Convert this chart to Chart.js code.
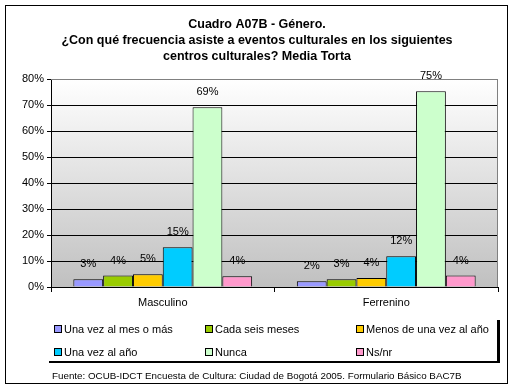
<!DOCTYPE html>
<html>
<head>
<meta charset="utf-8">
<script src="https://cdn.jsdelivr.net/npm/chart.js@4/dist/chart.umd.min.js"></script>
<style>
  html, body { margin: 0; padding: 0; background: #fff; }
  #wrap { width: 515px; height: 391px; position: relative; }
</style>
</head>
<body>
<div id="wrap"><canvas id="chart" width="515" height="391"></canvas></div>
<script>
// data
const categories = ['Masculino', 'Ferrenino'];
const seriesNames = ['Una vez al mes o más', 'Cada seis meses', 'Menos de una vez al año',
    'Una vez al año', 'Nunca', 'Ns/nr'];
const seriesColors = ['#9999ff', '#99cc00', '#ffcc00', '#00ccff', '#ccffcc', '#ff99cc'];
const masculino = [3.0, 4.4, 4.9, 15.3, 69.1, 4.1];
const femenino = [2.2, 3.0, 3.5, 11.8, 75.3, 4.4];
const yTicks = [0, 10, 20, 30, 40, 50, 60, 70, 80];

const titleLines = ['Cuadro A07B - Género.',
    '¿Con qué frecuencia asiste a eventos culturales en los siguientes',
    'centros culturales? Media Torta'];
const footer = 'Fuente: OCUB-IDCT Encuesta de Cultura: Ciudad de Bogotá 2005. Formulario Básico BAC7B';

const FONT = '"Liberation Sans", Arial, sans-serif';

const datasets = seriesNames.map((name, i) => ({
    label: name,
    data: [masculino[i], femenino[i]],
    backgroundColor: seriesColors[i],
    borderColor: '#000',
    borderWidth: 1,
    borderSkipped: 'bottom',
    categoryPercentage: 0.8,
    barPercentage: 1.0
}));

// frame, gradient, title, legend, footer
const decorations = {
    id: 'decorations',
    beforeDraw(chart) {
        const ctx = chart.ctx;
        const a = chart.chartArea;
        ctx.save();
        ctx.fillStyle = '#fff';
        ctx.fillRect(0, 0, chart.width, chart.height);
        let g = ctx.createLinearGradient(0, a.top, 0, a.bottom);
        g.addColorStop(0, '#ffffff');
        g.addColorStop(1, '#c0c0c0');
        ctx.fillStyle = g;
        ctx.fillRect(a.left, a.top, a.right - a.left, a.bottom - a.top);
        ctx.restore();
    },
    afterDraw(chart) {
        const ctx = chart.ctx;
        const a = chart.chartArea;
        ctx.save();
        // outer frame
        ctx.strokeStyle = '#000';
        ctx.lineWidth = 1;
        ctx.strokeRect(5.5, 5.5, 502, 378);
        // plot area top/right border
        ctx.strokeStyle = '#808080';
        ctx.beginPath();
        ctx.moveTo(a.left, a.top + 0.5);
        ctx.lineTo(a.right - 0.5, a.top + 0.5);
        ctx.lineTo(a.right - 0.5, a.bottom);
        ctx.stroke();

        // title
        ctx.fillStyle = '#000';
        ctx.font = 'bold 12.5px ' + FONT;
        ctx.textAlign = 'center';
        ctx.textBaseline = 'middle';
        titleLines.forEach((t, i) => ctx.fillText(t, 257, 25 + i * 16));

        // data labels
        ctx.font = '11px ' + FONT;
        chart.data.datasets.forEach((ds, i) => {
            chart.getDatasetMeta(i).data.forEach((bar, j) => {
                ctx.fillText(Math.round(ds.data[j]) + '%', bar.x, bar.y - 15);
            });
        });

        // legend box shadow
        ctx.fillStyle = '#000';
        ctx.fillRect(49, 361, 451, 2);
        ctx.fillRect(497, 320, 3, 43);

        // legend entries
        ctx.font = '11px ' + FONT;
        ctx.textAlign = 'left';
        const colX = [54, 205, 356];
        const rowY = [329, 352];
        chart.data.datasets.forEach((ds, i) => {
            const x = colX[i % 3], y = rowY[Math.floor(i / 3)];
            ctx.fillStyle = ds.backgroundColor;
            ctx.fillRect(x, y - 3, 7, 7);
            ctx.strokeStyle = '#000';
            ctx.strokeRect(x + 0.5, y - 3.5, 7, 7);
            ctx.fillStyle = '#000';
            ctx.fillText(ds.label, x + 10, y + 1);
        });

        // footer
        ctx.font = '9.8px ' + FONT;
        ctx.fillText(footer, 52, 376);
        ctx.restore();
    }
};

const config = {
    type: 'bar',
    data: { labels: categories, datasets: datasets },
    options: {
        responsive: false,
        animation: false,
        layout: { padding: { top: 79, left: 0, right: 17, bottom: 74 } },
        plugins: {
            legend: { display: false },
            title: { display: false },
            tooltip: { enabled: false }
        },
        scales: {
            x: {
                grid: { offset: true, drawOnChartArea: false, drawTicks: true, tickLength: 5, color: '#000' },
                border: { color: '#000' },
                ticks: { color: '#000', font: { family: FONT, size: 11 }, padding: 4 },
                afterFit: (s) => { s.height = 30; }
            },
            y: {
                min: 0,
                max: 80,
                afterBuildTicks: (s) => { s.ticks = yTicks.map(v => ({ value: v })); },
                grid: {
                    color: (c) => c.tick && c.tick.value === 80 ? '#808080' : '#000',
                    tickColor: '#000',
                    tickLength: 4
                },
                border: { color: '#000' },
                ticks: {
                    color: '#000',
                    font: { family: FONT, size: 11 },
                    padding: 3,
                    callback: (v) => v + '%'
                },
                afterFit: (s) => { s.width = 51; }
            }
        }
    },
    plugins: [decorations]
};

window.onload = () => {
    let ctx = document.getElementById('chart').getContext('2d');
    window.myChart = new Chart(ctx, config);
};
</script>
</body>
</html>
